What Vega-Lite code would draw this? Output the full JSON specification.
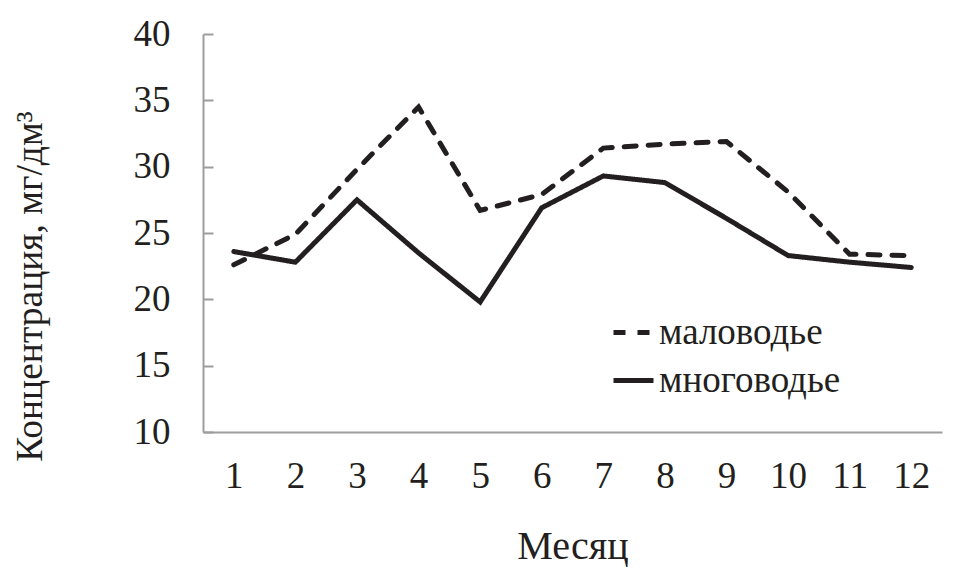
{
  "$schema": "https://vega.github.io/schema/vega-lite/v6.json",
  "width": 739,
  "height": 398,
  "autosize": {"type": "none"},
  "padding": {"left": 203, "top": 34, "right": 13, "bottom": 149},
  "background": "white",
  "config": {
    "view": {"stroke": null},
    "font": "Liberation Serif"
  },
  "data": {
    "values": [
      {"month": 1, "series": "маловодье", "value": 22.6},
      {"month": 2, "series": "маловодье", "value": 24.9},
      {"month": 3, "series": "маловодье", "value": 29.8},
      {"month": 4, "series": "маловодье", "value": 34.5},
      {"month": 5, "series": "маловодье", "value": 26.7},
      {"month": 6, "series": "маловодье", "value": 27.9},
      {"month": 7, "series": "маловодье", "value": 31.4},
      {"month": 8, "series": "маловодье", "value": 31.7},
      {"month": 9, "series": "маловодье", "value": 31.9},
      {"month": 10, "series": "маловодье", "value": 28.1},
      {"month": 11, "series": "маловодье", "value": 23.4},
      {"month": 12, "series": "маловодье", "value": 23.3},
      {"month": 1, "series": "многоводье", "value": 23.6},
      {"month": 2, "series": "многоводье", "value": 22.8},
      {"month": 3, "series": "многоводье", "value": 27.5},
      {"month": 4, "series": "многоводье", "value": 23.5},
      {"month": 5, "series": "многоводье", "value": 19.8},
      {"month": 6, "series": "многоводье", "value": 26.9},
      {"month": 7, "series": "многоводье", "value": 29.3},
      {"month": 8, "series": "многоводье", "value": 28.8},
      {"month": 9, "series": "многоводье", "value": 26.1},
      {"month": 10, "series": "многоводье", "value": 23.3},
      {"month": 11, "series": "многоводье", "value": 22.8},
      {"month": 12, "series": "многоводье", "value": 22.4}
    ]
  },
  "mark": {"type": "line", "strokeWidth": 5, "strokeCap": "round", "strokeJoin": "miter"},
  "encoding": {
    "x": {
      "field": "month",
      "type": "ordinal",
      "scale": {"type": "point", "padding": 0.5},
      "axis": {
        "title": "Месяц",
        "titleFont": "Liberation Serif",
        "titleFontSize": 40,
        "titleFontWeight": "normal",
        "titleColor": "#231f20",
        "titleBaseline": "alphabetic",
        "titleY": 126,
        "labelAngle": 0,
        "labelFont": "Liberation Serif",
        "labelFontSize": 37,
        "labelColor": "#231f20",
        "labelPadding": 26,
        "ticks": false,
        "domainColor": "#9d9d9d",
        "domainWidth": 2,
        "grid": false
      }
    },
    "y": {
      "field": "value",
      "type": "quantitative",
      "scale": {"domain": [10, 40], "nice": false, "zero": false},
      "axis": {
        "title": "Концентрация, мг/дм³",
        "titleFont": "Liberation Serif",
        "titleFontSize": 37.5,
        "titleFontWeight": "normal",
        "titleColor": "#231f20",
        "titleAngle": -90,
        "titleAlign": "center",
        "titleBaseline": "middle",
        "titleX": -173,
        "titleY": 252,
        "values": [10, 15, 20, 25, 30, 35, 40],
        "labelFont": "Liberation Serif",
        "labelFontSize": 37,
        "labelColor": "#231f20",
        "labelPadding": 43,
        "tickSize": -10,
        "tickColor": "#9d9d9d",
        "tickWidth": 2,
        "domainColor": "#9d9d9d",
        "domainWidth": 2,
        "grid": false
      }
    },
    "color": {
      "field": "series",
      "type": "nominal",
      "scale": {"domain": ["маловодье", "многоводье"], "range": ["#231f20", "#231f20"]},
      "legend": {
        "title": null,
        "orient": "none",
        "legendX": 408,
        "legendY": 276,
        "symbolType": "stroke",
        "symbolSize": 1600,
        "symbolStrokeWidth": 5,
        "labelFont": "Liberation Serif",
        "labelFontSize": 37,
        "labelColor": "#231f20",
        "labelOffset": 3,
        "labelLimit": 400,
        "rowPadding": 7
      }
    },
    "strokeDash": {
      "field": "series",
      "type": "nominal",
      "scale": {"domain": ["маловодье", "многоводье"], "range": [[12, 12], [1, 0]]},
      "legend": {
        "title": null,
        "orient": "none",
        "legendX": 408,
        "legendY": 276,
        "symbolType": "stroke",
        "symbolSize": 1600,
        "symbolStrokeWidth": 5,
        "labelFont": "Liberation Serif",
        "labelFontSize": 37,
        "labelColor": "#231f20",
        "labelOffset": 3,
        "labelLimit": 400,
        "rowPadding": 7
      }
    }
  }
}
